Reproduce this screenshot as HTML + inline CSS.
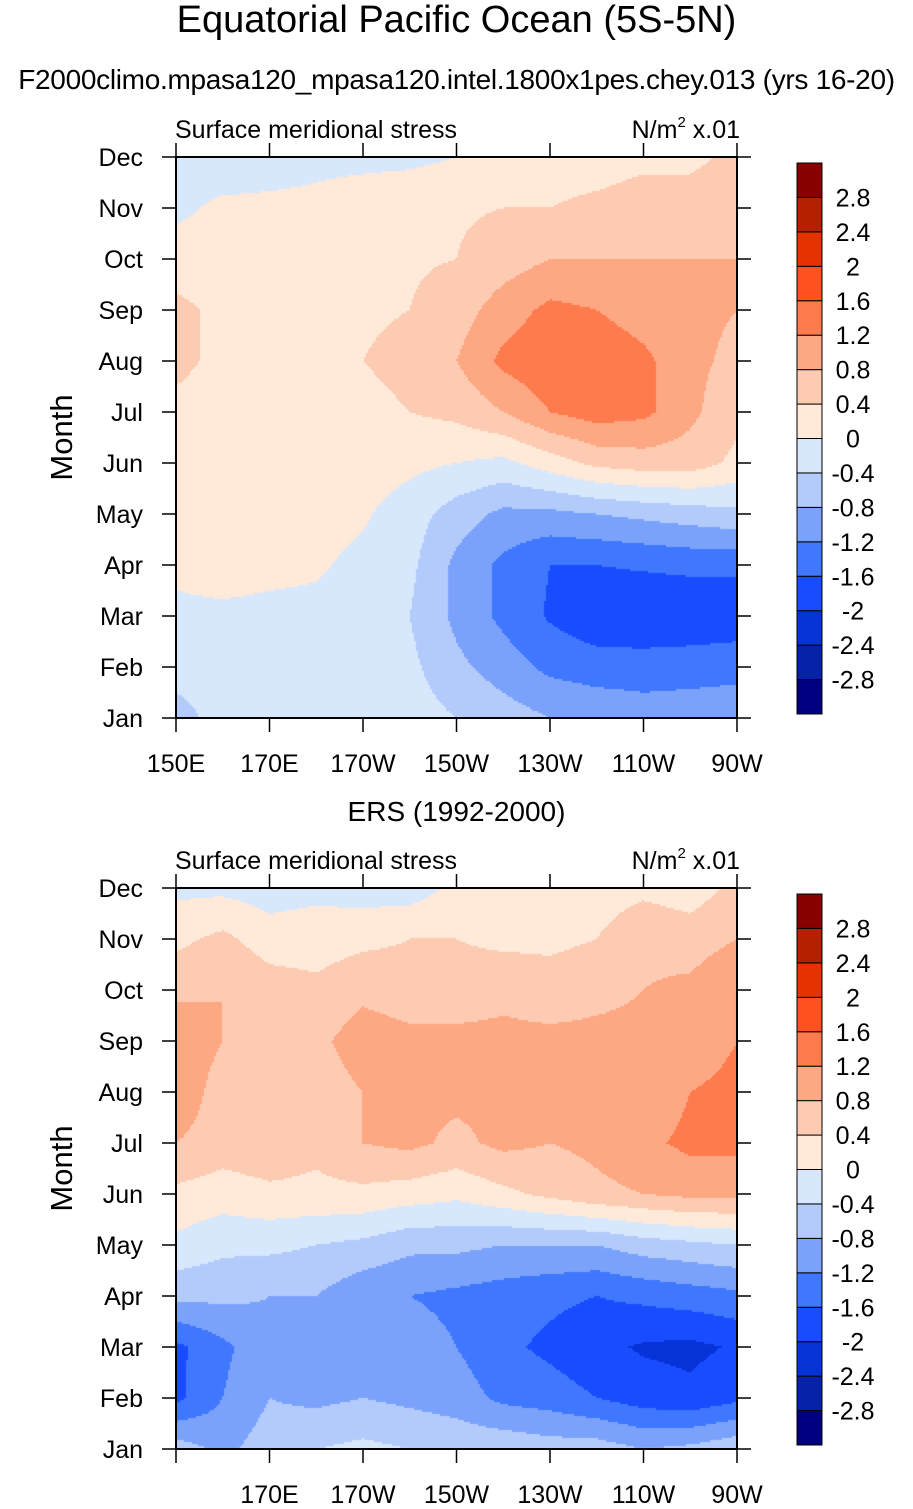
<!DOCTYPE html>
<html><head><meta charset="utf-8"><style>
body{margin:0;background:#fff;width:913px;height:1509px;position:relative;overflow:hidden;font-family:"Liberation Sans",sans-serif;color:#000}
.t{position:absolute;white-space:nowrap}
canvas{position:absolute}
</style></head><body>
<div class="t" style="left:0;width:913px;text-align:center;top:-2px;font-size:38px;line-height:44px">Equatorial Pacific Ocean (5S-5N)</div>
<div class="t" style="left:0;width:913px;text-align:center;top:64px;font-size:28px;line-height:32px;letter-spacing:-0.3px">F2000climo.mpasa120_mpasa120.intel.1800x1pes.chey.013 (yrs 16-20)</div>
<div class="t" style="left:0;width:913px;text-align:center;top:796px;font-size:28px;line-height:32px">ERS (1992-2000)</div>
<svg id="svg" width="913" height="1509" style="position:absolute;left:0;top:0"></svg>
<script>
const months=["Jan","Feb","Mar","Apr","May","Jun","Jul","Aug","Sep","Oct","Nov","Dec"];
const lonLabels=["150E","170E","170W","150W","130W","110W","90W"];
const lonTicks=[150,170,190,210,230,250,270];
const lons=[150,160,170,180,190,200,210,220,230,240,250,260,270];
const levels=[-2.8,-2.4,-2,-1.6,-1.2,-0.8,-0.4,0,0.4,0.8,1.2,1.6,2,2.4,2.8];
const levelLabels=["-2.8","-2.4","-2","-1.6","-1.2","-0.8","-0.4","0","0.4","0.8","1.2","1.6","2","2.4","2.8"];
const colors=["#000080","#0522a8","#0533d8","#1a4cff","#3f77ff","#7ba2fb","#b2cbfb","#d7e8fd","#ffe9d8","#fdcbb2","#fda883","#fd7b4c","#ff5020","#e63200","#b42000","#880000"];
const model=[
[-0.5,-0.3,-0.25,-0.2,-0.2,-0.2,-0.4,-0.6,-0.8,-0.9,-1.0,-1.0,-1.0],
[-0.3,-0.3,-0.2,-0.2,-0.2,-0.3,-0.7,-1.0,-1.3,-1.4,-1.4,-1.35,-1.3],
[-0.1,-0.1,-0.1,-0.1,-0.2,-0.4,-0.9,-1.3,-1.65,-1.9,-1.95,-1.95,-1.9],
[0.1,0.2,0.1,0.05,-0.1,-0.3,-0.9,-1.3,-1.6,-1.6,-1.55,-1.5,-1.5],
[0.2,0.2,0.2,0.15,0.05,-0.2,-0.6,-0.9,-0.9,-0.8,-0.7,-0.6,-0.5],
[0.25,0.2,0.2,0.2,0.2,0.1,0.0,-0.1,0.2,0.5,0.6,0.6,0.3],
[0.3,0.2,0.2,0.2,0.3,0.4,0.5,0.8,1.2,1.4,1.3,0.9,0.5],
[0.5,0.3,0.3,0.3,0.4,0.5,0.8,1.3,1.5,1.5,1.3,0.9,0.7],
[0.5,0.3,0.3,0.3,0.35,0.4,0.6,1.0,1.3,1.2,1.0,0.9,0.8],
[0.2,0.2,0.2,0.25,0.3,0.35,0.4,0.6,0.8,0.8,0.8,0.8,0.8],
[-0.1,0.1,0.1,0.1,0.2,0.3,0.35,0.4,0.4,0.5,0.6,0.6,0.7],
[-0.3,-0.3,-0.2,-0.1,-0.1,-0.1,0.0,0.1,0.2,0.2,0.3,0.3,0.5]];
const obs=[
[-0.6,-0.9,-0.6,-0.4,-0.3,-0.4,-0.5,-0.5,-0.6,-0.6,-0.8,-0.7,-0.5],
[-1.7,-1.2,-0.8,-0.9,-0.8,-0.9,-1.0,-1.3,-1.4,-1.6,-1.8,-1.9,-1.7],
[-1.7,-1.3,-0.9,-1.0,-0.9,-1.0,-1.2,-1.5,-1.7,-1.9,-2.05,-2.1,-1.95],
[-0.7,-0.7,-0.8,-0.8,-1.1,-1.2,-1.3,-1.4,-1.5,-1.6,-1.5,-1.4,-1.3],
[-0.1,-0.3,-0.3,-0.4,-0.5,-0.7,-0.7,-0.8,-0.8,-0.8,-0.6,-0.5,-0.4],
[0.3,0.2,0.3,0.3,0.3,0.2,0.1,0.3,0.5,0.7,0.8,0.9,0.9],
[0.8,0.6,0.7,0.5,0.8,0.9,0.7,0.9,0.8,0.9,1.1,1.3,1.3],
[1.1,0.6,0.7,0.6,0.8,0.9,0.9,0.9,0.9,0.9,0.9,1.2,1.3],
[1.1,0.8,0.7,0.7,1.0,0.9,0.9,0.9,0.9,0.9,0.9,1.0,1.2],
[0.7,0.8,0.6,0.5,0.7,0.6,0.6,0.7,0.6,0.7,0.8,0.9,1.2],
[0.3,0.5,0.2,0.2,0.3,0.4,0.4,0.3,0.3,0.4,0.7,0.6,0.8],
[-0.1,-0.1,-0.2,-0.1,-0.2,-0.2,0.1,0.1,0.1,0.2,0.3,0.2,0.5]];

const NS="http://www.w3.org/2000/svg";
const svg=document.getElementById('svg');
function mk(tag,attrs,parent){const e=document.createElementNS(NS,tag);for(const k in attrs)e.setAttribute(k,attrs[k]);(parent||svg).appendChild(e);return e;}
function colorFor(v){let i=0;while(i<levels.length&&v>=levels[i])i++;return colors[i];}

function panel(name,data,top,showFirstLon){
  const L=176,R=737,T=top,B=top+561;
  const xs=lon=>L+(lon-150)/120*(R-L);
  const ys=m=>B-m/11*(B-T);
  const cv=document.createElement('canvas');
  cv.width=R-L;cv.height=B-T;cv.style.left=L+'px';cv.style.top=T+'px';
  
  
  document.body.insertBefore(cv,svg);
  const ctx=cv.getContext('2d');
  const step=2;
  for(let py=0;py<cv.height;py+=step){
    const m=(B-(T+py+step/2))/(B-T)*11;
    const i0=Math.max(0,Math.min(10,Math.floor(m)));const fy=m-i0;
    for(let px=0;px<cv.width;px+=step){
      const lon=150+(px+step/2)/(R-L)*120;
      const g=(lon-150)/10;const j0=Math.max(0,Math.min(11,Math.floor(g)));const fx=g-j0;
      const v=(data[i0][j0]*(1-fx)+data[i0][j0+1]*fx)*(1-fy)+(data[i0+1][j0]*(1-fx)+data[i0+1][j0+1]*fx)*fy;
      ctx.fillStyle=colorFor(v);ctx.fillRect(px,py,step,step);
    }
  }
  const g=mk('g',{});
  
  
  mk('rect',{x:L,y:T,width:R-L,height:B-T,fill:'none',stroke:'#000','stroke-width':2},g);
  months.forEach((mn,i)=>{
    const y=ys(i);
    mk('line',{x1:L-14,x2:L,y1:y,y2:y,stroke:'#000','stroke-width':1.5},g);
    mk('line',{x1:R,x2:R+14,y1:y,y2:y,stroke:'#000','stroke-width':1.5},g);
    const t=mk('text',{x:L-33,y:y+9,'text-anchor':'end','font-size':25},g);t.textContent=mn;
    
    
  });
  lonTicks.forEach((lo,i)=>{
    const x=xs(lo);
    mk('line',{x1:x,x2:x,y1:B,y2:B+14,stroke:'#000','stroke-width':1.5},g);
    mk('line',{x1:x,x2:x,y1:T-14,y2:T,stroke:'#000','stroke-width':1.5},g);
    if(i===0&&!showFirstLon)return;
    const t=mk('text',{x:x,y:B+54,'text-anchor':'middle','font-size':25},g);t.textContent=lonLabels[i];
    
    
  });
  const yl=mk('text',{x:0,y:0,transform:`translate(72,${(T+B)/2}) rotate(-90)`,'text-anchor':'middle','font-size':31},g);yl.textContent='Month';
  
  
  const lt=mk('text',{x:175,y:T-19,'font-size':25},g);lt.textContent='Surface meridional stress';
  
  
  const rt=mk('text',{x:740,y:T-19,'text-anchor':'end','font-size':25},g);
  rt.innerHTML='N/m<tspan font-size="15" dy="-11">2</tspan><tspan dy="11"> x.01</tspan>';
  
  
  const cb=mk('g',{});
  
  
  const cT=T+6,cH=551,bh=cH/16;
  colors.forEach((c,i)=>{
    mk('rect',{x:797,y:cT+cH-(i+1)*bh,width:25,height:bh,fill:c,stroke:'#000','stroke-width':1},cb);
  });
  levelLabels.forEach((lb,i)=>{
    const t=mk('text',{x:853,y:cT+cH-(i+1)*bh+9,'text-anchor':'middle','font-size':25},cb);t.textContent=lb;
    
    
  });
}
panel('model-panel',model,157,true);
panel('obs-panel',obs,888,false);
</script>
</body></html>
